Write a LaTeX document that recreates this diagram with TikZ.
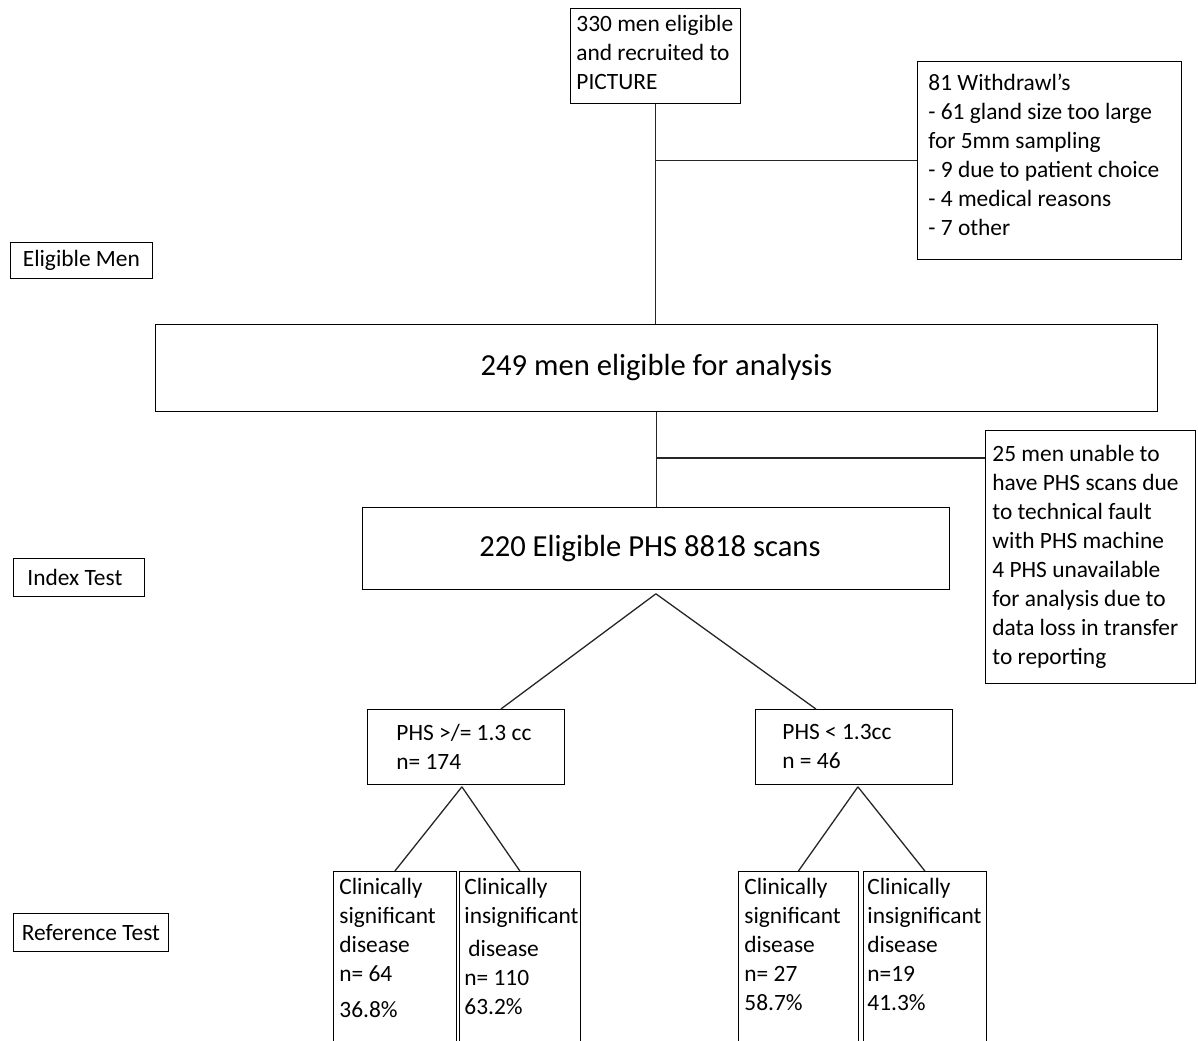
\documentclass[tikz,border=0pt]{standalone}
\usepackage{fontspec}
\setmainfont{Carlito}
\usepackage{tikz}

\begin{document}
\begin{tikzpicture}[
    x=0.5pt, y=-0.5pt,
    box/.style={draw, anchor=north west, align=flush left, inner ysep=0pt,
                font=\fontsize{11.7}{14.5}\selectfont},
    bigbox/.style={draw, anchor=north west, align=center,
                   font=\fontsize{15.3}{18}\selectfont},
    tag/.style={draw, anchor=north west, inner sep=0pt,
                font=\fontsize{11.7}{14.5}\selectfont},
    leaf/.style={box, inner ysep=3.6pt, text depth=100pt},
    line/.style={line width=0.65pt, black!85}
]
    \useasboundingbox (0,0) rectangle (1198,1040);
    \clip (0,0) rectangle (1198,1040);
    \node[box, inner xsep=3pt, text width=79pt, minimum height=47.5pt] (start) at (570,8)
        {\mbox{330 men eligible}\\\mbox{and recruited to}\\PICTURE\vspace*{3pt}};
    \node[box, inner xsep=5.5pt, text width=121pt, minimum height=99pt] (withdraw) at (917,61)
        {81 Withdrawl{\char"27}s\\\mbox{- 61 gland size too large}\\for 5mm sampling\\\mbox{- 9 due to patient choice}\\- 4 medical reasons\\- 7 other\vspace*{6pt}};
    \node[bigbox, minimum width=501pt, minimum height=43.5pt] (analysis) at (155,324)
        {\raisebox{1.5pt}{249 men eligible for analysis}};
    \node[box, inner xsep=3.5pt, text width=98pt, minimum height=126.5pt] (excluded) at (985,430)
        {25 men unable to\\\mbox{have PHS scans due}\\to technical fault\\with PHS machine\\4 PHS unavailable\\for analysis due to\\\mbox{data loss in transfer}\\to reporting};
    \node[bigbox, minimum width=293.5pt, minimum height=41pt] (scans) at (362,507)
        {220 Eligible PHS 8818 scans\hspace*{6pt}};
    \node[box, inner xsep=14.5pt, text width=69.5pt, minimum height=37.5pt] (high) at (367,709)
        {\mbox{PHS >/= 1.3 cc}\\n= 174};
    \node[box, inner xsep=13.5pt, text width=71.5pt, minimum height=37.5pt] (low) at (755,709)
        {PHS < 1.3cc\\n = 46};
    \node[leaf, inner xsep=3pt, text width=55.5pt] (highsig) at (333,871)
        {Clinically\\significant\\disease\\n= 64\\[3.5pt]36.8\%};
    \node[leaf, inner xsep=2.5pt, text width=55.5pt] (highins) at (459,871)
        {Clinically\\insignificant\\[2pt]\hspace*{2pt}disease\\n= 110\\63.2\%};
    \node[leaf, inner xsep=3pt, text width=54pt] (lowsig) at (738,871)
        {Clinically\\significant\\disease\\n= 27\\58.7\%};
    \node[leaf, inner xsep=2pt, text width=57.5pt] (lowins) at (863,871)
        {Clinically\\insignificant\\disease\\n=19\\41.3\%};
    \node[tag, minimum width=71pt, minimum height=18pt] (eligible) at (10,242) {Eligible Men};
    \node[tag, minimum width=65.5pt, minimum height=19pt] (index) at (13,558) {Index Test\hspace*{4pt}};
    \node[tag, minimum width=77.5pt, minimum height=19pt] (reference) at (13,913) {Reference Test};
    \coordinate (split) at (657,458);
    \draw[line] (start.south) -- (start.south |- analysis.north);
    \draw[line] (start.south |- withdraw.west) -- (withdraw.west);
    \draw[line] (analysis.south) -- (analysis.south |- scans.north);
    \draw[line] (split) -- (split -| excluded.west);
    \draw[line] ([yshift=-2pt]scans.south) -- ([xshift=17.5pt]high.north);
    \draw[line] ([yshift=-2pt]scans.south) -- ([xshift=-19pt]low.north);
    \draw[line] ([xshift=-2pt,yshift=-1pt]high.south) -- (highsig.north);
    \draw[line] ([xshift=-2pt,yshift=-1pt]high.south) -- (highins.north);
    \draw[line] ([xshift=2pt,yshift=-1pt]low.south) -- (lowsig.north);
    \draw[line] ([xshift=2pt,yshift=-1pt]low.south) -- (lowins.north);
\end{tikzpicture}
\end{document}
